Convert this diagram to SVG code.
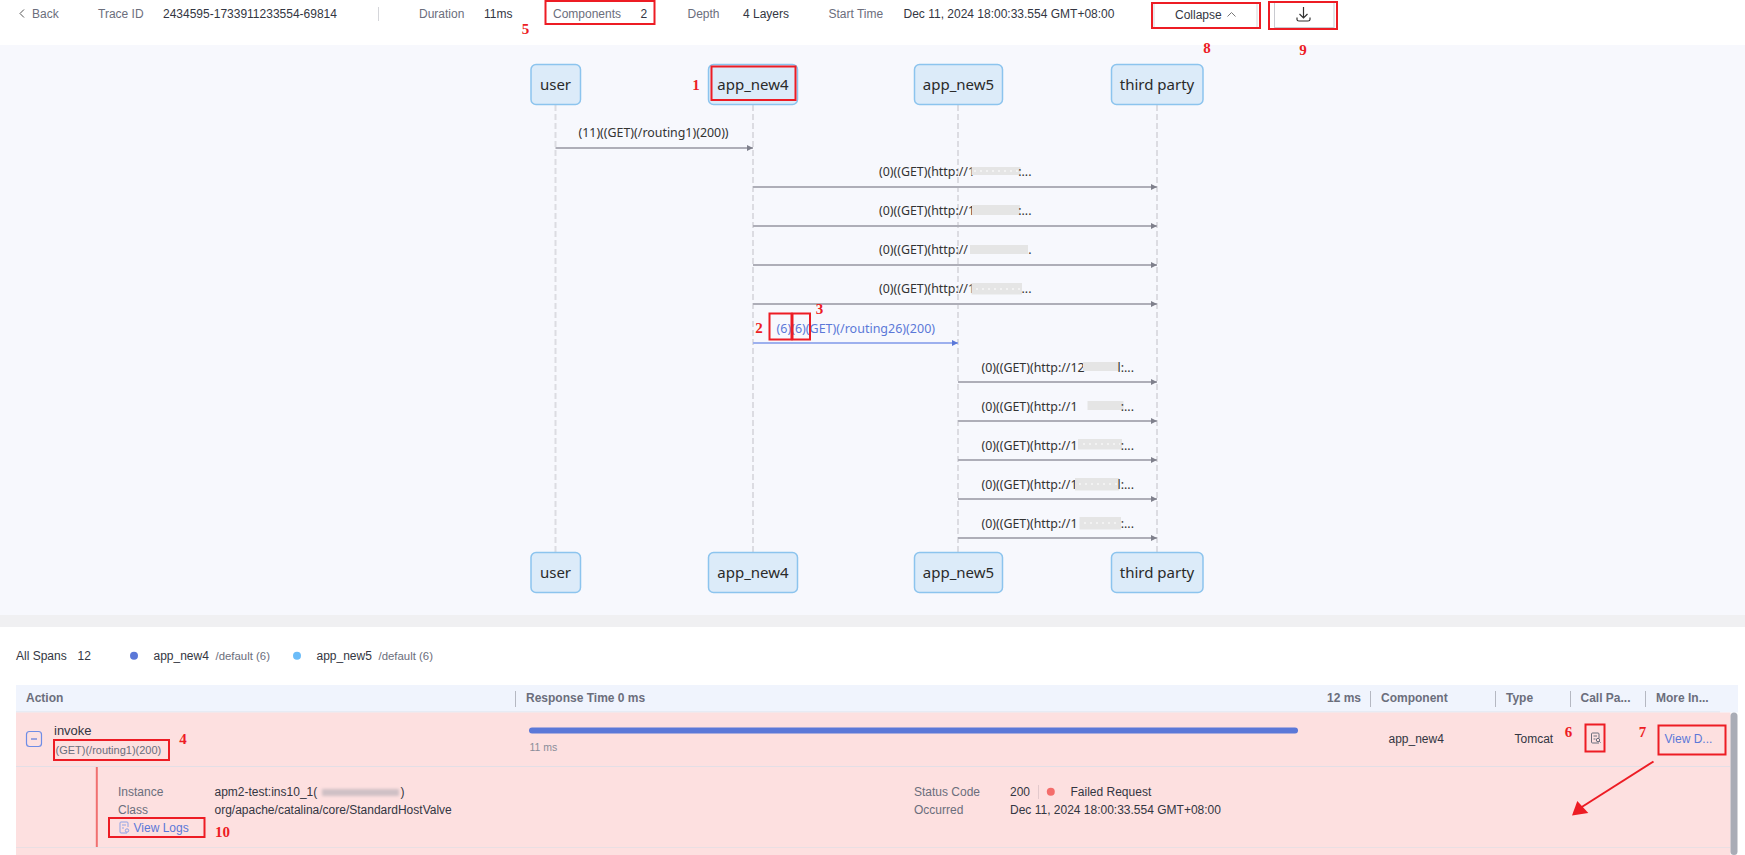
<svg xmlns="http://www.w3.org/2000/svg" width="1745" height="855" viewBox="0 0 1745 855">
<style>
text{font-family:"Liberation Sans",Arial,sans-serif;font-size:12px;fill:#333642}
.k{fill:#6b6e7c}
.l{fill:#8a8d99}
.h{font-weight:bold;fill:#6b6e7c}
.n{font-family:"Noto Sans","Open Sans",sans-serif;font-size:15px;fill:#2a2a2a;text-anchor:middle}
.m{font-family:"Noto Sans","Open Sans",sans-serif;font-size:12.4px;fill:#333}
.mb{font-family:"Noto Sans","Open Sans",sans-serif;font-size:12.5px;fill:#5b78d8}
.b{fill:#5b78d8}
.node{fill:#dcebf9;stroke:#8cc4ee;stroke-width:1.5}
.life{stroke:#dcdce2;stroke-width:2;stroke-dasharray:6 3;fill:none}
.msg{stroke:#aeaeb8;stroke-width:2;fill:none;marker-end:url(#ah)}
.msgb{stroke:#9db0ee;stroke-width:2;fill:none;marker-end:url(#ahb)}
.mask{fill:#e5e5e5}
.speck{stroke:#fff;stroke-width:1;stroke-dasharray:2 4;fill:none}
.r{fill:none;stroke:#ed1c24;stroke-width:2}
.t{font-family:"Liberation Serif",serif;font-weight:bold;font-size:15px;fill:#ed1c24;text-anchor:middle}
.sep{stroke:#b5b8c2;stroke-width:1}
.ic{fill:none;stroke:#6b6e7c;stroke-width:1}
</style>
<defs>
<marker id="ah" markerWidth="7" markerHeight="7" refX="6" refY="3" orient="auto" markerUnits="userSpaceOnUse"><path d="M0 0L6 3L0 6Z" fill="#7f808c"/></marker>
<marker id="ahb" markerWidth="7" markerHeight="7" refX="6" refY="3" orient="auto" markerUnits="userSpaceOnUse"><path d="M0 0L6 3L0 6Z" fill="#5b78d8"/></marker>
<filter id="blur" x="-20%" y="-60%" width="140%" height="220%"><feGaussianBlur stdDeviation="1.8"/></filter>
</defs>
<rect width="1745" height="855" fill="#fff"/>

<g id="header">
<path d="M24 9.5L20 13.5L24 17.5" fill="none" stroke="#555" stroke-width="1"/>
<text x="32" y="18" class="k">Back</text>
<text x="98" y="18" class="k">Trace ID</text>
<text x="163" y="18">2434595-1733911233554-69814</text>
<line x1="378.5" y1="7" x2="378.5" y2="21" stroke="#d5d6da"/>
<text x="419" y="18" class="k">Duration</text>
<text x="484" y="18">11ms</text>
<text x="553" y="18" class="k">Components</text>
<text x="640.5" y="18">2</text>
<text x="687.5" y="18" class="k">Depth</text>
<text x="743" y="18">4 Layers</text>
<text x="828.5" y="18" class="k">Start Time</text>
<text x="903.5" y="18">Dec 11, 2024 18:00:33.554 GMT+08:00</text>
</g>
<g id="collapse-button">
<rect x="1154" y="2.5" width="103" height="25" fill="#fff" stroke="#d5d6da"/>
<text x="1175" y="19">Collapse</text>
<path d="M1227.5 16.5L1231.5 12.5L1235.5 16.5" fill="none" stroke="#777" stroke-width="1"/>
</g>
<g id="download-button">
<rect x="1274.5" y="2.5" width="59.5" height="25" fill="#fff" stroke="#c9cad0"/>
<path d="M1303.5 7V18M1299.5 14L1303.5 18L1307.5 14M1297 17.5V19.5Q1297 21 1299 21H1308Q1310 21 1310 19.5V17.5" fill="none" stroke="#333" stroke-width="1.2"/>
</g>

<rect id="sequence-bg" x="0" y="45" width="1745" height="570" fill="#f7f8fd"/>
<rect id="divider" x="0" y="615" width="1745" height="12" fill="#f0f0f2"/>

<g id="lifelines">
<line class="life" x1="555.5" y1="105" x2="555.5" y2="552"/>
<line class="life" x1="753" y1="105" x2="753" y2="552"/>
<line class="life" x1="958" y1="105" x2="958" y2="552"/>
<line class="life" x1="1157" y1="105" x2="1157" y2="552"/>
</g>
<g id="connectors">
<line class="msg" x1="555.5" y1="148" x2="753" y2="148"/>
<line class="msg" x1="753" y1="187" x2="1157" y2="187"/>
<line class="msg" x1="753" y1="226" x2="1157" y2="226"/>
<line class="msg" x1="753" y1="265" x2="1157" y2="265"/>
<line class="msg" x1="753" y1="304" x2="1157" y2="304"/>
<line class="msgb" x1="753" y1="343" x2="958" y2="343"/>
<line class="msg" x1="958" y1="382" x2="1157" y2="382"/>
<line class="msg" x1="958" y1="421" x2="1157" y2="421"/>
<line class="msg" x1="958" y1="460" x2="1157" y2="460"/>
<line class="msg" x1="958" y1="499" x2="1157" y2="499"/>
<line class="msg" x1="958" y1="538" x2="1157" y2="538"/>
</g>
<g id="message-labels">
<text class="m" x="578.5" y="137">(11)((GET)(/routing1)(200))</text>
<text class="m" x="879" y="176">(0)((GET)(http://1</text><rect class="mask" x="971.5" y="167" width="49" height="8"/><path class="speck" d="M974 171H1020"/><text class="m" x="1031.5" y="176" text-anchor="end">:...</text>
<text class="m" x="879" y="215">(0)((GET)(http://1</text><rect class="mask" x="972" y="205" width="48" height="10"/><text class="m" x="1031.5" y="215" text-anchor="end">:...</text>
<text class="m" x="879" y="254">(0)((GET)(http://</text><rect class="mask" x="970" y="245" width="58" height="9"/><text class="m" x="1031.5" y="254" text-anchor="end">.</text>
<text class="m" x="879" y="293">(0)((GET)(http://1</text><rect class="mask" x="971.5" y="283" width="50.5" height="11.5"/><path class="speck" d="M976 289H1020"/><text class="m" x="1031.5" y="293" text-anchor="end">...</text>
<text class="mb" x="776.5" y="332.5">(6)(6)(GET)(/routing26)(200)</text>
<text class="m" x="981.5" y="372">(0)((GET)(http://12</text><rect class="mask" x="1083" y="362" width="36.5" height="9"/><text class="m" x="1134" y="372" text-anchor="end">l:...</text>
<text class="m" x="981.5" y="411">(0)((GET)(http://1</text><rect class="mask" x="1087.5" y="401" width="36" height="9"/><text class="m" x="1134" y="411" text-anchor="end">:...</text>
<text class="m" x="981.5" y="450">(0)((GET)(http://1</text><rect class="mask" x="1078" y="439" width="44" height="10.5"/><path class="speck" d="M1083 444H1120"/><text class="m" x="1134" y="450" text-anchor="end">:...</text>
<text class="m" x="981.5" y="489">(0)((GET)(http://1</text><rect class="mask" x="1075" y="478" width="44" height="12.5"/><path class="speck" d="M1079 484H1118"/><text class="m" x="1134" y="489" text-anchor="end">l:...</text>
<text class="m" x="981.5" y="528">(0)((GET)(http://1</text><rect class="mask" x="1079.5" y="517" width="41.5" height="12.5"/><path class="speck" d="M1084 523H1120"/><text class="m" x="1134" y="528" text-anchor="end">:...</text>
</g>
<g id="node-user-top"><rect class="node" x="531" y="64.5" width="49.5" height="40" rx="5"/><text class="n" x="555.5" y="90">user</text></g>
<g id="node-app-new4-top"><rect class="node" x="708.5" y="64.5" width="89" height="40" rx="5"/><text class="n" x="753" y="90">app_new4</text></g>
<g id="node-app-new5-top"><rect class="node" x="914.5" y="64.5" width="88" height="40" rx="5"/><text class="n" x="958.5" y="90">app_new5</text></g>
<g id="node-third-party-top"><rect class="node" x="1111.5" y="64.5" width="91.5" height="40" rx="5"/><text class="n" x="1157" y="90">third party</text></g>
<g id="node-user-bottom"><rect class="node" x="531" y="552.5" width="49.5" height="40" rx="5"/><text class="n" x="555.5" y="578">user</text></g>
<g id="node-app-new4-bottom"><rect class="node" x="708.5" y="552.5" width="89" height="40" rx="5"/><text class="n" x="753" y="578">app_new4</text></g>
<g id="node-app-new5-bottom"><rect class="node" x="914.5" y="552.5" width="88" height="40" rx="5"/><text class="n" x="958.5" y="578">app_new5</text></g>
<g id="node-third-party-bottom"><rect class="node" x="1111.5" y="552.5" width="91.5" height="40" rx="5"/><text class="n" x="1157" y="578">third party</text></g>

<g id="span-legend">
<text x="16" y="660">All Spans</text>
<text x="77.5" y="660">12</text>
<circle cx="134" cy="655.8" r="4" fill="#5b78d8"/>
<text x="153.5" y="660">app_new4</text>
<text x="215.5" y="660" class="k" style="font-size:11.4px">/default (6)</text>
<circle cx="297" cy="655.8" r="4" fill="#6bbcf8"/>
<text x="316.5" y="660">app_new5</text>
<text x="378.5" y="660" class="k" style="font-size:11.4px">/default (6)</text>
</g>
<g id="table-header">
<rect x="16" y="685" width="1722" height="27.5" fill="#f0f4fd"/>
<line x1="16" y1="712" x2="1720" y2="712" stroke="#dfe3ea"/>
<text x="26" y="702" class="h">Action</text>
<line class="sep" x1="515.5" y1="691" x2="515.5" y2="707"/>
<text x="526" y="702" class="h">Response Time 0 ms</text>
<text x="1327" y="702" class="h">12 ms</text>
<line class="sep" x1="1370.5" y1="691" x2="1370.5" y2="707"/>
<text x="1381" y="702" class="h">Component</text>
<line class="sep" x1="1495.5" y1="691" x2="1495.5" y2="707"/>
<text x="1506" y="702" class="h">Type</text>
<line class="sep" x1="1570.5" y1="691" x2="1570.5" y2="707"/>
<text x="1580.5" y="702" class="h">Call Pa...</text>
<line class="sep" x1="1645.5" y1="691" x2="1645.5" y2="707"/>
<text x="1656" y="702" class="h">More In...</text>
</g>
<g id="span-row">
<rect x="16" y="712.5" width="1714.5" height="142.5" fill="#fde0e0"/>
<line x1="16" y1="766.5" x2="1730" y2="766.5" stroke="#e3dfe6"/>
<line x1="16" y1="847.5" x2="1730" y2="847.5" stroke="#e9dfe3"/>
<rect x="26.5" y="731.5" width="15" height="15" rx="3" fill="none" stroke="#6f8de6" stroke-width="1.2"/>
<line x1="31" y1="739" x2="37" y2="739" stroke="#5b78d8" stroke-width="1.2"/>
<text x="54" y="735" style="font-size:13px">invoke</text>
<text x="55.5" y="754" class="k" style="font-size:11px">(GET)(/routing1)(200)</text>
<rect x="529" y="727.5" width="769" height="6" rx="3" fill="#5b78d8"/>
<text x="529.5" y="751" class="l" style="font-size:10.5px">11 ms</text>
<text x="1388.5" y="743">app_new4</text>
<text x="1514.5" y="743">Tomcat</text>
<g class="ic"><path d="M1599 743H1592.5Q1591.5 743 1591.5 742V734Q1591.5 733 1592.5 733H1598Q1599 733 1599 734V738M1593.5 736H1597M1593.5 739H1595.5"/><circle cx="1598" cy="740" r="1.7"/><path d="M1599.2 741.2L1600.6 742.6"/></g>
<text x="1664.5" y="743" class="b">View D...</text>
<line x1="96.8" y1="767" x2="96.8" y2="847" stroke="#f07070" stroke-width="2"/>
<text x="118" y="796" class="k">Instance</text>
<text x="214.5" y="796">apm2-test:ins10_1(</text>
<rect x="322" y="789" width="77" height="7" fill="#cfc0c5" filter="url(#blur)"/>
<text x="400.5" y="796">)</text>
<text x="118" y="813.5" class="k">Class</text>
<text x="214.5" y="813.5">org/apache/catalina/core/StandardHostValve</text>
<path d="M127 833H121Q120 833 120 832V823Q120 822 121 822H127Q128 822 128 823V827M122 825H126M122 828H124" fill="none" stroke="#8da2e6"/>
<circle cx="127" cy="830.5" r="1.7" fill="none" stroke="#8da2e6"/>
<text x="133.5" y="832" class="b">View Logs</text>
<text x="914" y="796" class="k">Status Code</text>
<text x="1010" y="796">200</text>
<line x1="1038.5" y1="785" x2="1038.5" y2="799" stroke="#e3c9cc"/>
<circle cx="1050.8" cy="791.8" r="4" fill="#f46d6b"/>
<text x="1070.5" y="796">Failed Request</text>
<text x="914" y="813.5" class="k">Occurred</text>
<text x="1010" y="813.5">Dec 11, 2024 18:00:33.554 GMT+08:00</text>
</g>
<rect id="scrollbar" x="1730.5" y="712.5" width="7" height="142.5" rx="3.5" fill="#a9acb6"/>

<g id="annotations">
<rect class="r" x="545.5" y="1" width="109" height="23"/>
<rect class="r" x="1152" y="3" width="108" height="25"/>
<rect class="r" x="1269" y="2" width="68" height="27"/>
<rect class="r" x="711.5" y="66.5" width="84" height="33.5"/>
<rect class="r" x="769.5" y="313.5" width="22" height="26"/>
<rect class="r" x="792.5" y="313.5" width="17.5" height="26"/>
<rect class="r" x="54" y="740" width="115" height="20"/>
<rect class="r" x="1585.5" y="724.5" width="19" height="27"/>
<rect class="r" x="1658.5" y="725.5" width="67" height="29"/>
<rect class="r" x="109" y="818" width="95.5" height="19"/>
<line x1="1653.5" y1="761.5" x2="1581" y2="807.5" stroke="#ed1c24" stroke-width="2"/>
<path d="M1572 815.5L1577.3 801L1588.3 813Z" fill="#ed1c24"/>
<text class="t" x="696" y="89.5">1</text>
<text class="t" x="759" y="332.5">2</text>
<text class="t" x="819.5" y="314">3</text>
<text class="t" x="183" y="743.5">4</text>
<text class="t" x="525.5" y="34">5</text>
<text class="t" x="1568.5" y="736.5">6</text>
<text class="t" x="1642.5" y="737">7</text>
<text class="t" x="1207" y="53">8</text>
<text class="t" x="1303" y="55">9</text>
<text class="t" x="222.5" y="836.5">10</text>
</g>
</svg>
